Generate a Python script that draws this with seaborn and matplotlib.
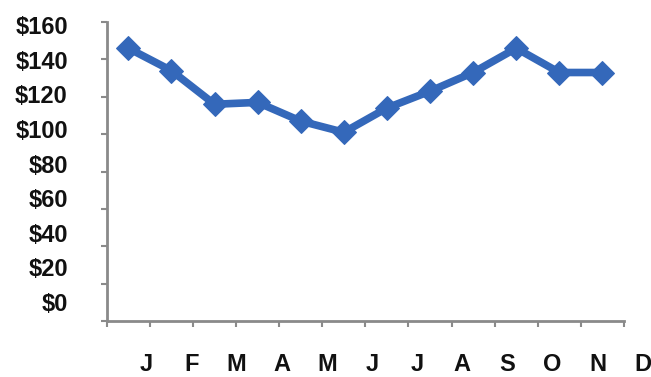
import numpy as np
import pandas as pd
import matplotlib
matplotlib.use("Agg")
import matplotlib.pyplot as plt
import seaborn as sns

# Monthly average price
months = ["J", "F", "M", "A", "M", "J", "J", "A", "S", "O", "N", "D"]
prices = [146, 134, 116, 117, 107, 101, 114, 123, 133, 146, 133, 133]
y_values = [0, 20, 40, 60, 80, 100, 120, 140, 160]
y_labels = ["\\$0", "\\$20", "\\$40", "\\$60", "\\$80", "\\$100", "\\$120", "\\$140", "\\$160"]

sns.set_style("white")
plt.rcParams["font.family"] = ["Liberation Sans", "DejaVu Sans"]

BLUE = "#3468BA"
AXIS_GREY = "#8a8a8a"
TEXT = "#111111"

fig = plt.figure(figsize=(6.51, 3.77), dpi=100)
ax = fig.add_axes([0.164, 0.1485, 0.7945, 0.793])

df = pd.DataFrame({"pos": np.arange(len(months)), "price": prices})
sns.lineplot(data=df, x="pos", y="price", ax=ax, color=BLUE, linewidth=5.5,
             marker="D", markersize=12.5, markeredgecolor=BLUE,
             markerfacecolor=BLUE, solid_joinstyle="round")

ax.set_xlabel("")
ax.set_ylabel("")

# category boundary ticks on x, value ticks on y (marks only)
ax.set_xticks(np.arange(-0.5, len(months), 1.0))
ax.set_xticklabels([])
ax.set_yticks(y_values, minor=True)
ax.tick_params(axis="x", direction="out", length=4, width=1.5,
               color=AXIS_GREY, bottom=True)
ax.tick_params(which="minor", axis="y", direction="out", length=4.5,
               width=1.5, color=AXIS_GREY, left=True)

# y labels sit in their own slightly compressed slots
label_y = [10.2 + 0.926 * v for v in y_values]
ax.set_yticks(label_y)
ax.set_yticklabels(y_labels)
ax.tick_params(which="major", axis="y", length=0, pad=28, labelsize=17,
               left=True)
for lab in ax.get_yticklabels():
    lab.set_fontweight("bold")
    lab.set_color(TEXT)

# month labels, spaced a little wider than the categories
label_x = [0.42 + 1.047 * i for i in range(len(months))]
for x, m in zip(label_x, months):
    ax.annotate(m, xy=(x, 0), xycoords=("data", "axes fraction"),
                xytext=(0, -23), textcoords="offset points",
                ha="center", va="top", fontsize=17, fontweight="bold",
                color=TEXT, annotation_clip=False)

ax.set_xlim(-0.5, len(months) - 0.5)
ax.set_ylim(0, 160)

for side in ("top", "right"):
    ax.spines[side].set_visible(False)
for side in ("left", "bottom"):
    ax.spines[side].set_color(AXIS_GREY)
    ax.spines[side].set_linewidth(2)

ax.grid(False)
fig.savefig("out.png", dpi=100)
